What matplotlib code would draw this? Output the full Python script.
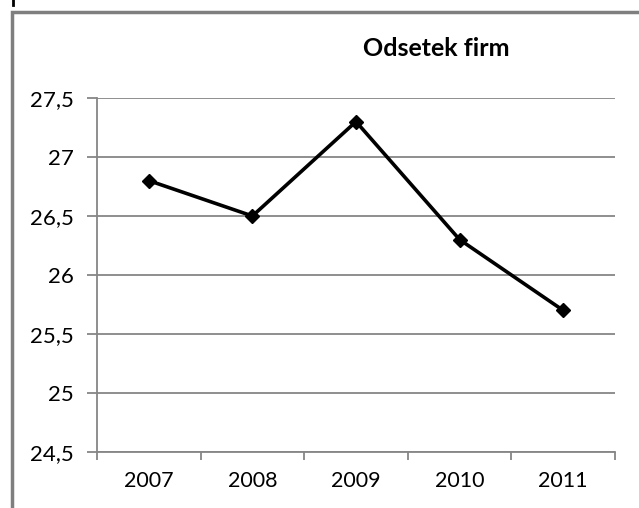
import matplotlib.pyplot as plt
from matplotlib.patches import Rectangle
from matplotlib.ticker import FixedLocator, FuncFormatter

lata = ['2007', '2008', '2009', '2010', '2011']
odsetek = [26.8, 26.5, 27.3, 26.3, 25.7]
y_ticks = [24.5, 25, 25.5, 26, 26.5, 27, 27.5]

plt.rcParams['font.family'] = ['Lato', 'DejaVu Sans']
grey = '#868686'

fig = plt.figure(figsize=(6.39, 5.08), dpi=100)
ax = fig.add_axes([97 / 639, 1 - 452 / 508, (615 - 97) / 639, (452 - 98) / 508])

x = list(range(len(lata)))
ax.plot(x, odsetek, color='black', lw=2.6, marker='D', markersize=7, zorder=3)

ax.set_xlim(-0.5, len(lata) - 0.5)
ax.set_ylim(24.5, 27.5)
ax.set_yticks(y_ticks)
ax.yaxis.set_major_formatter(FuncFormatter(lambda v, p: ('%g' % v).replace('.', ',')))
ax.yaxis.grid(True, color=grey, lw=1.3)
ax.set_axisbelow(True)

# category boundaries get ticks, labels sit in the middle
ax.xaxis.set_major_locator(FixedLocator([i - 0.5 for i in range(len(lata) + 1)]))
ax.xaxis.set_minor_locator(FixedLocator(x))
ax.set_xticklabels([])
ax.set_xticklabels(lata, minor=True)
ax.tick_params(axis='x', which='major', length=6, width=1.3, color=grey, direction='out')
ax.tick_params(axis='x', which='minor', length=0, pad=14, labelsize=15.5)
ax.tick_params(axis='y', length=7, width=1.3, color=grey, pad=10, labelsize=16)

for s in ['top', 'right']:
    ax.spines[s].set_visible(False)
for s in ['left', 'bottom']:
    ax.spines[s].set_color(grey)
    ax.spines[s].set_linewidth(1.3)

fig.text(436 / 639, 1 - 49 / 508, 'Odsetek firm', fontsize=18, fontweight='bold',
         ha='center', va='center')

# chart frame, cut off on the right and bottom
fig.patches.append(Rectangle((12 / 639, -0.1), 1.0, 1 - 12 / 508 + 0.1,
                             transform=fig.transFigure, fill=False,
                             edgecolor='#7f7f7f', lw=2.5))
fig.add_artist(plt.Line2D([13 / 639, 13 / 639], [1, 1 - 5 / 508],
                          transform=fig.transFigure, color='black', lw=2))

fig.savefig('out.png', dpi=100)
